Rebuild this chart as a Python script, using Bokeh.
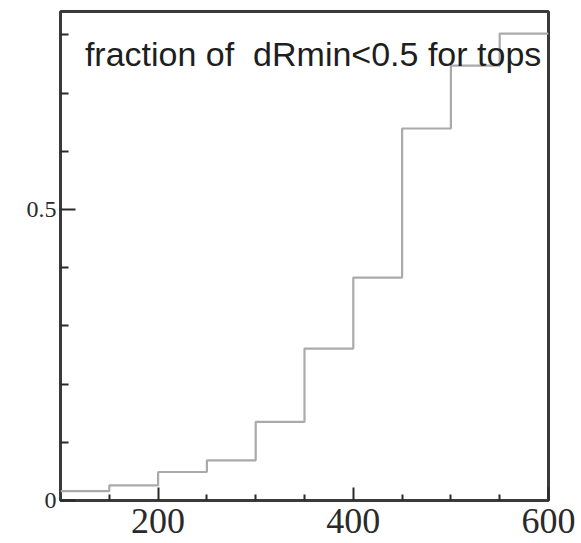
from bokeh.plotting import figure
from bokeh.models import FixedTicker, Label, Range1d
from bokeh.embed import file_html
from bokeh.resources import INLINE

# data
bin_edges = [100, 150, 200, 250, 300, 350, 400, 450, 500, 550, 600]
fractions = [0.016, 0.026, 0.049, 0.069, 0.135, 0.261, 0.383, 0.639, 0.747, 0.802]
x_major = [200, 400, 600]
x_minor = [150, 250, 300, 350, 450, 500, 550]
y_major = [0, 0.5]
y_minor = [0.1, 0.2, 0.3, 0.4, 0.6, 0.7, 0.8]
title_text = "fraction of\u00a0\u00a0dRmin<0.5 for tops"

p = figure(frame_width=488, frame_height=489, output_backend="svg",
           toolbar_location=None, x_range=Range1d(100, 600),
           y_range=Range1d(0, 0.84),
           min_border_left=60, min_border_right=33, min_border_top=11,
           min_border_bottom=43)
p.grid.visible = False
p.outline_line_color = "#3a3a3a"
p.outline_line_width = 3
p.background_fill_color = "white"
p.border_fill_color = "white"

p.step(x=bin_edges, y=fractions + [fractions[-1]], mode="after",
       line_color="#aaaaaa", line_width=2.2)

for ax in (p.xaxis[0], p.yaxis[0]):
    ax.axis_line_color = None
    ax.major_tick_out = 0
    ax.minor_tick_out = 0
    ax.major_tick_line_color = "#2a2a2a"
    ax.minor_tick_line_color = "#2a2a2a"
    ax.major_tick_line_width = 2
    ax.minor_tick_line_width = 2
    ax.major_label_text_font = "Liberation Serif"
    ax.major_label_text_color = "#2a2a2a"

p.xaxis.ticker = FixedTicker(ticks=x_major, minor_ticks=x_minor)
p.xaxis.major_tick_in = 13
p.xaxis.minor_tick_in = 6
p.xaxis.major_label_text_font_size = "36px"
p.xaxis.major_label_standoff = 8

p.yaxis.ticker = FixedTicker(ticks=y_major, minor_ticks=y_minor)
p.yaxis.major_label_overrides = {0: "0", 0.5: "0.5"}
p.yaxis.major_tick_in = 15
p.yaxis.minor_tick_in = 8
p.yaxis.major_label_text_font_size = "24px"
p.yaxis.major_label_standoff = 4

p.add_layout(Label(x=125, y=0.767, text=title_text,
                   text_font="Liberation Sans", text_font_size="34px",
                   text_color="#1e1e1e", text_baseline="alphabetic"))

open("out.html", "w").write(file_html(p, INLINE))
